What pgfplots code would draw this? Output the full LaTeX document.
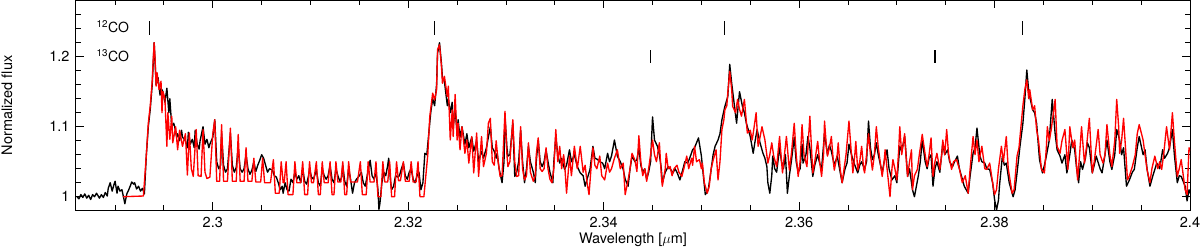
\documentclass[border=0pt]{standalone}
\usepackage{fontspec}
\setmainfont{TeX Gyre Heros}
\usepackage{pgfplots}
\pgfplotsset{compat=1.18}
\usepackage{pgfplotstable}
\pgfplotstableread[row sep=\\]{
x y\\
2.2861 1.000\\ 2.2863 0.997\\ 2.2865 1.003\\ 2.2867 0.999\\ 2.2869 1.004\\ 2.2871 0.998\\ 2.2873 1.002\\ 2.2875 0.996\\
2.2877 1.003\\ 2.2879 1.000\\ 2.2881 1.005\\ 2.2884 0.998\\ 2.2886 1.003\\ 2.2888 0.999\\ 2.2890 1.006\\ 2.2892 1.001\\
2.2893 1.012\\ 2.2895 1.020\\ 2.2897 1.008\\ 2.2899 1.018\\ 2.2900 1.022\\ 2.2902 1.005\\ 2.2903 1.015\\ 2.2905 1.008\\
2.2907 1.010\\ 2.2909 0.997\\ 2.2910 0.990\\ 2.2912 1.004\\ 2.2914 1.010\\ 2.2916 1.017\\ 2.2917 1.021\\ 2.2919 1.018\\
2.2920 1.020\\ 2.2922 1.011\\ 2.2924 1.015\\ 2.2926 1.008\\ 2.2928 1.012\\ 2.2930 1.004\\ 2.2932 1.060\\ 2.2934 1.100\\
2.2936 1.125\\ 2.2938 1.160\\ 2.2939 1.190\\ 2.2940 1.220\\ 2.2941 1.190\\ 2.2942 1.160\\ 2.2944 1.170\\ 2.2946 1.145\\
2.2947 1.155\\ 2.2949 1.150\\ 2.2951 1.135\\ 2.2953 1.155\\ 2.2955 1.120\\ 2.2956 1.140\\ 2.2958 1.100\\ 2.2960 1.105\\
2.2961 1.100\\ 2.2963 1.085\\ 2.2964 1.090\\ 2.2966 1.080\\ 2.2968 1.095\\ 2.2969 1.085\\ 2.2972 1.080\\ 2.2974 1.070\\
2.2975 1.092\\ 2.2977 1.075\\ 2.2979 1.082\\ 2.2981 1.070\\ 2.2982 1.095\\ 2.2984 1.075\\ 2.2986 1.068\\ 2.2987 1.080\\
2.2990 1.100\\ 2.2992 1.075\\ 2.2994 1.082\\ 2.2996 1.070\\ 2.2997 1.075\\ 2.3000 1.085\\ 2.3002 1.110\\ 2.3004 1.050\\
2.3006 1.040\\ 2.3008 1.045\\ 2.3009 1.090\\ 2.3011 1.045\\ 2.3013 1.035\\ 2.3015 1.040\\ 2.3018 1.090\\ 2.3020 1.045\\
2.3022 1.035\\ 2.3024 1.042\\ 2.3026 1.070\\ 2.3028 1.040\\ 2.3030 1.035\\ 2.3032 1.040\\ 2.3034 1.060\\ 2.3036 1.040\\
2.3038 1.032\\ 2.3040 1.038\\ 2.3042 1.050\\ 2.3044 1.036\\ 2.3046 1.045\\ 2.3048 1.052\\ 2.3050 1.060\\ 2.3052 1.055\\
2.3054 1.045\\ 2.3056 1.035\\ 2.3058 1.040\\ 2.3061 1.038\\ 2.3063 1.030\\ 2.3065 1.028\\ 2.3067 1.020\\ 2.3069 1.010\\
2.3071 1.015\\ 2.3072 1.005\\ 2.3074 1.020\\ 2.3076 1.010\\ 2.3078 1.008\\ 2.3080 1.025\\ 2.3082 1.020\\ 2.3084 1.035\\
2.3086 1.025\\ 2.3088 1.030\\ 2.3090 1.020\\ 2.3092 1.040\\ 2.3094 1.022\\ 2.3096 1.018\\ 2.3098 1.030\\ 2.3099 1.040\\
2.3101 1.028\\ 2.3103 1.025\\ 2.3106 1.038\\ 2.3108 1.020\\ 2.3110 1.015\\ 2.3112 1.040\\ 2.3114 1.030\\ 2.3116 1.025\\
2.3118 1.030\\ 2.3120 1.045\\ 2.3122 1.025\\ 2.3124 1.020\\ 2.3126 1.040\\ 2.3128 1.030\\ 2.3130 1.022\\ 2.3132 1.028\\
2.3133 1.045\\ 2.3135 1.022\\ 2.3137 1.015\\ 2.3139 1.040\\ 2.3141 1.025\\ 2.3143 1.005\\ 2.3145 1.020\\ 2.3147 1.025\\
2.3150 1.030\\ 2.3152 1.035\\ 2.3154 1.020\\ 2.3156 1.015\\ 2.3158 1.030\\ 2.3160 1.045\\ 2.3161 1.052\\ 2.3163 1.030\\
2.3165 1.025\\ 2.3167 1.035\\ 2.3169 1.010\\ 2.3170 0.982\\ 2.3171 0.990\\ 2.3173 1.020\\ 2.3175 1.035\\ 2.3177 1.030\\
2.3179 1.045\\ 2.3180 1.055\\ 2.3182 1.020\\ 2.3183 1.010\\ 2.3185 1.015\\ 2.3187 1.030\\ 2.3189 1.028\\ 2.3191 1.030\\
2.3193 1.040\\ 2.3195 1.048\\ 2.3197 1.030\\ 2.3199 1.025\\ 2.3201 1.035\\ 2.3203 1.040\\ 2.3205 1.025\\ 2.3207 1.020\\
2.3209 1.030\\ 2.3211 1.035\\ 2.3213 1.010\\ 2.3215 1.020\\ 2.3217 1.062\\ 2.3219 1.060\\ 2.3221 1.090\\ 2.3223 1.120\\
2.3225 1.140\\ 2.3227 1.130\\ 2.3229 1.160\\ 2.3230 1.205\\ 2.3232 1.220\\ 2.3234 1.190\\ 2.3235 1.170\\ 2.3237 1.165\\
2.3240 1.130\\ 2.3241 1.140\\ 2.3243 1.120\\ 2.3245 1.135\\ 2.3246 1.100\\ 2.3248 1.125\\ 2.3250 1.090\\ 2.3251 1.110\\
2.3253 1.085\\ 2.3255 1.100\\ 2.3258 1.075\\ 2.3260 1.090\\ 2.3262 1.070\\ 2.3265 1.085\\ 2.3267 1.065\\ 2.3270 1.080\\
2.3272 1.050\\ 2.3275 1.065\\ 2.3277 1.055\\ 2.3280 1.070\\ 2.3282 1.085\\ 2.3284 1.100\\ 2.3286 1.070\\ 2.3288 1.065\\
2.3290 1.055\\ 2.3291 1.062\\ 2.3293 1.040\\ 2.3296 1.020\\ 2.3298 1.050\\ 2.3299 1.115\\ 2.3301 1.070\\ 2.3302 1.058\\
2.3304 1.060\\ 2.3306 1.090\\ 2.3307 1.105\\ 2.3309 1.029\\ 2.3311 1.035\\ 2.3313 1.050\\ 2.3315 1.095\\ 2.3317 1.050\\
2.3319 1.020\\ 2.3321 1.040\\ 2.3323 1.072\\ 2.3325 1.050\\ 2.3328 1.035\\ 2.3330 1.020\\ 2.3331 1.050\\ 2.3333 1.081\\
2.3335 1.050\\ 2.3337 1.043\\ 2.3339 1.050\\ 2.3341 1.067\\ 2.3343 1.050\\ 2.3345 1.035\\ 2.3348 1.020\\ 2.3349 1.050\\
2.3351 1.086\\ 2.3353 1.060\\ 2.3355 1.048\\ 2.3357 1.055\\ 2.3360 1.039\\ 2.3362 1.045\\ 2.3365 1.067\\ 2.3367 1.050\\
2.3370 1.060\\ 2.3373 1.043\\ 2.3376 1.034\\ 2.3379 1.030\\ 2.3381 1.015\\ 2.3383 1.025\\ 2.3386 1.039\\ 2.3389 1.072\\
2.3391 1.055\\ 2.3394 1.053\\ 2.3396 1.050\\ 2.3399 1.048\\ 2.3401 1.040\\ 2.3404 1.062\\ 2.3406 1.050\\ 2.3408 1.058\\
2.3411 1.081\\ 2.3414 1.058\\ 2.3417 1.050\\ 2.3420 1.039\\ 2.3422 1.025\\ 2.3425 1.015\\ 2.3427 1.040\\ 2.3429 1.058\\
2.3432 1.050\\ 2.3434 1.053\\ 2.3436 1.070\\ 2.3438 1.045\\ 2.3440 1.035\\ 2.3442 1.040\\ 2.3444 1.025\\ 2.3446 1.035\\
2.3448 1.050\\ 2.3450 1.114\\ 2.3452 1.081\\ 2.3454 1.075\\ 2.3455 1.072\\ 2.3457 1.060\\ 2.3459 1.040\\ 2.3460 1.020\\
2.3463 1.035\\ 2.3466 1.043\\ 2.3468 1.040\\ 2.3471 1.034\\ 2.3473 1.040\\ 2.3475 1.035\\ 2.3478 1.024\\ 2.3481 1.039\\
2.3483 1.050\\ 2.3486 1.048\\ 2.3488 1.055\\ 2.3491 1.067\\ 2.3493 1.070\\ 2.3495 1.077\\ 2.3497 1.084\\ 2.3500 1.058\\
2.3502 1.030\\ 2.3504 1.003\\ 2.3507 1.010\\ 2.3509 1.029\\ 2.3512 1.060\\ 2.3514 1.072\\ 2.3517 1.081\\ 2.3519 1.090\\
2.3521 1.110\\ 2.3524 1.129\\ 2.3527 1.143\\ 2.3529 1.189\\ 2.3531 1.162\\ 2.3533 1.139\\ 2.3536 1.105\\ 2.3539 1.150\\
2.3542 1.129\\ 2.3544 1.120\\ 2.3546 1.105\\ 2.3550 1.086\\ 2.3553 1.062\\ 2.3555 1.080\\ 2.3557 1.096\\ 2.3560 1.077\\
2.3563 1.062\\ 2.3565 1.055\\ 2.3567 1.043\\ 2.3568 1.020\\ 2.3570 1.005\\ 2.3572 1.030\\ 2.3573 1.058\\ 2.3575 1.040\\
2.3577 1.035\\ 2.3580 1.070\\ 2.3582 1.050\\ 2.3584 1.040\\ 2.3586 1.060\\ 2.3588 1.005\\ 2.3590 1.030\\ 2.3592 1.050\\
2.3595 1.085\\ 2.3597 1.050\\ 2.3599 1.035\\ 2.3601 1.040\\ 2.3603 1.075\\ 2.3604 1.048\\ 2.3607 1.060\\ 2.3609 1.086\\
2.3611 1.070\\ 2.3614 1.029\\ 2.3616 1.045\\ 2.3619 1.060\\ 2.3621 1.048\\ 2.3623 1.040\\ 2.3626 1.091\\ 2.3629 1.060\\
2.3631 1.074\\ 2.3633 1.065\\ 2.3636 1.045\\ 2.3639 1.058\\ 2.3642 1.035\\ 2.3644 1.020\\ 2.3647 1.040\\ 2.3649 1.048\\
2.3651 1.075\\ 2.3654 1.058\\ 2.3657 1.045\\ 2.3660 1.034\\ 2.3662 1.045\\ 2.3664 1.050\\ 2.3667 1.039\\ 2.3669 1.050\\
2.3671 1.108\\ 2.3673 1.070\\ 2.3675 1.053\\ 2.3677 1.060\\ 2.3679 1.077\\ 2.3681 1.060\\ 2.3685 1.034\\ 2.3687 1.050\\
2.3690 1.067\\ 2.3692 1.040\\ 2.3695 1.024\\ 2.3698 1.030\\ 2.3700 1.020\\ 2.3703 1.072\\ 2.3705 1.065\\ 2.3708 1.086\\
2.3710 1.050\\ 2.3711 1.029\\ 2.3713 1.040\\ 2.3716 1.010\\ 2.3718 1.000\\ 2.3720 1.015\\ 2.3722 1.030\\ 2.3724 1.050\\
2.3726 1.081\\ 2.3729 1.050\\ 2.3731 1.040\\ 2.3733 1.055\\ 2.3735 1.060\\ 2.3737 1.015\\ 2.3739 1.040\\ 2.3741 1.050\\
2.3744 1.035\\ 2.3747 1.077\\ 2.3749 1.060\\ 2.3752 1.067\\ 2.3754 1.050\\ 2.3757 1.043\\ 2.3759 1.050\\ 2.3762 1.058\\
2.3764 1.040\\ 2.3766 1.030\\ 2.3769 1.015\\ 2.3773 1.005\\ 2.3775 1.030\\ 2.3778 1.062\\ 2.3780 1.070\\ 2.3782 1.098\\
2.3785 1.058\\ 2.3787 1.050\\ 2.3790 1.048\\ 2.3792 1.040\\ 2.3795 1.039\\ 2.3798 1.020\\ 2.3800 0.996\\ 2.3802 0.981\\
2.3804 0.995\\ 2.3805 1.015\\ 2.3808 1.058\\ 2.3810 1.045\\ 2.3812 1.048\\ 2.3815 1.020\\ 2.3819 1.000\\ 2.3821 1.010\\
2.3823 1.034\\ 2.3826 1.072\\ 2.3829 1.105\\ 2.3831 1.140\\ 2.3833 1.181\\ 2.3835 1.150\\ 2.3836 1.143\\ 2.3839 1.124\\
2.3841 1.120\\ 2.3843 1.105\\ 2.3846 1.053\\ 2.3849 1.034\\ 2.3851 1.045\\ 2.3853 1.058\\ 2.3856 1.081\\ 2.3859 1.139\\
2.3862 1.090\\ 2.3864 1.067\\ 2.3867 1.058\\ 2.3869 1.048\\ 2.3872 1.060\\ 2.3874 1.034\\ 2.3877 1.060\\ 2.3879 1.081\\
2.3882 1.067\\ 2.3884 1.040\\ 2.3886 1.020\\ 2.3888 1.050\\ 2.3890 1.039\\ 2.3893 1.055\\ 2.3895 1.077\\ 2.3897 1.070\\
2.3900 1.034\\ 2.3902 1.045\\ 2.3904 1.058\\ 2.3908 1.040\\ 2.3910 1.034\\ 2.3913 1.060\\ 2.3915 1.081\\ 2.3918 1.050\\
2.3920 1.039\\ 2.3923 1.060\\ 2.3925 1.096\\ 2.3928 1.081\\ 2.3930 1.060\\ 2.3932 1.070\\ 2.3935 1.015\\ 2.3938 1.024\\
2.3941 1.035\\ 2.3943 1.039\\ 2.3946 1.070\\ 2.3948 1.086\\ 2.3952 1.060\\ 2.3954 1.067\\ 2.3956 1.040\\ 2.3959 1.015\\
2.3962 1.030\\ 2.3966 1.048\\ 2.3969 1.040\\ 2.3972 1.067\\ 2.3974 1.055\\ 2.3977 1.062\\ 2.3979 1.070\\ 2.3982 1.096\\
2.3984 1.060\\ 2.3987 1.020\\ 2.3989 1.030\\ 2.3991 1.029\\ 2.3995 1.015\\ 2.3997 0.994\\ 2.3999 1.010\\ 2.4000 1.005\\
}\blacktab
\pgfplotstableread[row sep=\\]{
x y\\
2.2908 1.000\\ 2.2929 1.001\\ 2.2932 1.060\\ 2.2934 1.105\\ 2.2936 1.130\\ 2.2938 1.165\\ 2.2939 1.195\\ 2.2940 1.220\\
2.2941 1.195\\ 2.2942 1.158\\ 2.2943 1.177\\ 2.2945 1.153\\ 2.2947 1.165\\ 2.2948 1.120\\ 2.2949 1.150\\ 2.2951 1.140\\
2.2953 1.072\\ 2.2954 1.120\\ 2.2956 1.082\\ 2.2958 1.115\\ 2.2959 1.077\\ 2.2962 1.100\\ 2.2964 1.067\\ 2.2966 1.095\\
2.2969 1.072\\ 2.2972 1.090\\ 2.2974 1.031\\ 2.2976 1.091\\ 2.2978 1.040\\ 2.2980 1.029\\ 2.2983 1.096\\ 2.2985 1.030\\
2.2988 1.029\\ 2.2990 1.096\\ 2.2992 1.035\\ 2.2994 1.026\\ 2.2997 1.028\\ 2.3000 1.090\\ 2.3002 1.110\\ 2.3004 1.022\\
2.3007 1.022\\ 2.3009 1.103\\ 2.3011 1.022\\ 2.3015 1.022\\ 2.3018 1.098\\ 2.3020 1.022\\ 2.3024 1.022\\ 2.3026 1.089\\
2.3028 1.022\\ 2.3032 1.022\\ 2.3034 1.070\\ 2.3036 1.022\\ 2.3040 1.022\\ 2.3042 1.055\\ 2.3044 1.021\\ 2.3049 1.021\\
2.3051 1.055\\ 2.3053 1.020\\ 2.3059 1.020\\ 2.3062 1.053\\ 2.3064 1.005\\ 2.3068 1.005\\ 2.3070 1.050\\ 2.3072 1.020\\
2.3073 1.020\\ 2.3075 1.050\\ 2.3077 1.003\\ 2.3082 1.003\\ 2.3084 1.050\\ 2.3086 1.020\\ 2.3090 1.020\\ 2.3092 1.050\\
2.3094 1.003\\ 2.3097 1.003\\ 2.3099 1.050\\ 2.3101 1.020\\ 2.3103 1.020\\ 2.3106 1.050\\ 2.3108 1.003\\ 2.3110 1.003\\
2.3112 1.050\\ 2.3114 1.020\\ 2.3118 1.020\\ 2.3120 1.050\\ 2.3122 1.003\\ 2.3124 1.003\\ 2.3126 1.050\\ 2.3128 1.021\\
2.3131 1.021\\ 2.3133 1.050\\ 2.3135 1.003\\ 2.3137 1.003\\ 2.3139 1.050\\ 2.3141 1.021\\ 2.3148 1.021\\ 2.3151 1.050\\
2.3153 1.003\\ 2.3157 1.003\\ 2.3159 1.050\\ 2.3161 1.021\\ 2.3165 1.021\\ 2.3167 1.050\\ 2.3169 1.000\\ 2.3172 1.000\\
2.3174 1.050\\ 2.3176 1.021\\ 2.3179 1.021\\ 2.3181 1.050\\ 2.3183 1.000\\ 2.3186 1.000\\ 2.3188 1.050\\ 2.3190 1.023\\
2.3192 1.023\\ 2.3195 1.050\\ 2.3197 1.022\\ 2.3201 1.022\\ 2.3203 1.050\\ 2.3205 1.021\\ 2.3208 1.021\\ 2.3210 1.050\\
2.3212 1.000\\ 2.3216 1.000\\ 2.3218 1.030\\ 2.3220 1.060\\ 2.3222 1.114\\ 2.3225 1.148\\ 2.3227 1.138\\ 2.3229 1.153\\
2.3230 1.210\\ 2.3232 1.217\\ 2.3234 1.186\\ 2.3235 1.162\\ 2.3237 1.172\\ 2.3240 1.143\\ 2.3241 1.158\\ 2.3243 1.081\\
2.3245 1.124\\ 2.3246 1.086\\ 2.3248 1.146\\ 2.3250 1.081\\ 2.3251 1.105\\ 2.3253 1.067\\ 2.3255 1.100\\ 2.3258 1.062\\
2.3260 1.081\\ 2.3262 1.048\\ 2.3265 1.086\\ 2.3267 1.034\\ 2.3270 1.091\\ 2.3272 1.029\\ 2.3275 1.086\\ 2.3277 1.043\\
2.3280 1.062\\ 2.3282 1.105\\ 2.3284 1.112\\ 2.3286 1.050\\ 2.3288 1.045\\ 2.3290 1.080\\ 2.3292 1.050\\ 2.3294 1.029\\
2.3296 1.030\\ 2.3297 1.060\\ 2.3299 1.122\\ 2.3301 1.060\\ 2.3302 1.043\\ 2.3304 1.050\\ 2.3306 1.090\\ 2.3307 1.110\\
2.3309 1.050\\ 2.3311 1.029\\ 2.3313 1.030\\ 2.3315 1.100\\ 2.3317 1.040\\ 2.3319 1.024\\ 2.3321 1.030\\ 2.3323 1.077\\
2.3325 1.035\\ 2.3328 1.022\\ 2.3330 1.030\\ 2.3331 1.060\\ 2.3333 1.084\\ 2.3335 1.040\\ 2.3337 1.036\\ 2.3339 1.040\\
2.3341 1.070\\ 2.3343 1.040\\ 2.3345 1.025\\ 2.3347 1.020\\ 2.3349 1.040\\ 2.3351 1.096\\ 2.3353 1.050\\ 2.3355 1.072\\
2.3357 1.040\\ 2.3359 1.060\\ 2.3360 1.048\\ 2.3362 1.005\\ 2.3364 1.040\\ 2.3365 1.058\\ 2.3367 1.030\\ 2.3370 1.072\\
2.3373 1.040\\ 2.3376 1.072\\ 2.3379 1.035\\ 2.3381 1.045\\ 2.3383 1.020\\ 2.3385 1.003\\ 2.3387 1.040\\ 2.3389 1.070\\
2.3391 1.045\\ 2.3393 1.040\\ 2.3396 1.058\\ 2.3398 1.030\\ 2.3401 1.024\\ 2.3404 1.048\\ 2.3406 1.035\\ 2.3408 1.040\\
2.3411 1.055\\ 2.3414 1.067\\ 2.3417 1.040\\ 2.3420 1.048\\ 2.3422 1.003\\ 2.3425 1.024\\ 2.3427 1.040\\ 2.3429 1.062\\
2.3432 1.052\\ 2.3434 1.036\\ 2.3436 1.087\\ 2.3438 1.050\\ 2.3440 1.030\\ 2.3442 1.040\\ 2.3444 1.022\\ 2.3446 1.040\\
2.3448 1.060\\ 2.3450 1.081\\ 2.3452 1.060\\ 2.3454 1.050\\ 2.3457 1.077\\ 2.3459 1.030\\ 2.3460 1.015\\ 2.3463 1.040\\
2.3464 1.062\\ 2.3466 1.040\\ 2.3468 1.043\\ 2.3470 1.030\\ 2.3472 1.040\\ 2.3475 1.045\\ 2.3477 1.035\\ 2.3480 1.029\\
2.3482 1.040\\ 2.3485 1.058\\ 2.3487 1.040\\ 2.3490 1.055\\ 2.3491 1.045\\ 2.3493 1.072\\ 2.3495 1.050\\ 2.3498 1.053\\
2.3500 1.040\\ 2.3501 1.048\\ 2.3503 1.020\\ 2.3506 1.005\\ 2.3508 1.015\\ 2.3510 1.040\\ 2.3512 1.052\\ 2.3515 1.067\\
2.3517 1.024\\ 2.3519 1.050\\ 2.3521 1.096\\ 2.3523 1.110\\ 2.3524 1.124\\ 2.3526 1.130\\ 2.3527 1.148\\ 2.3529 1.179\\
2.3531 1.153\\ 2.3532 1.129\\ 2.3535 1.120\\ 2.3537 1.139\\ 2.3539 1.125\\ 2.3541 1.115\\ 2.3544 1.139\\ 2.3547 1.091\\
2.3550 1.095\\ 2.3552 1.081\\ 2.3554 1.100\\ 2.3556 1.120\\ 2.3558 1.072\\ 2.3560 1.085\\ 2.3562 1.100\\ 2.3565 1.081\\
2.3568 1.048\\ 2.3570 1.060\\ 2.3572 1.077\\ 2.3574 1.058\\ 2.3577 1.043\\ 2.3580 1.086\\ 2.3582 1.050\\ 2.3583 1.034\\
2.3585 1.060\\ 2.3587 1.086\\ 2.3590 1.038\\ 2.3592 1.060\\ 2.3595 1.105\\ 2.3597 1.060\\ 2.3599 1.029\\ 2.3601 1.050\\
2.3603 1.103\\ 2.3605 1.060\\ 2.3608 1.043\\ 2.3609 1.070\\ 2.3611 1.115\\ 2.3613 1.060\\ 2.3614 1.034\\ 2.3616 1.050\\
2.3619 1.079\\ 2.3621 1.050\\ 2.3623 1.029\\ 2.3625 1.060\\ 2.3626 1.108\\ 2.3628 1.070\\ 2.3629 1.058\\ 2.3631 1.070\\
2.3633 1.086\\ 2.3635 1.050\\ 2.3636 1.038\\ 2.3639 1.060\\ 2.3640 1.077\\ 2.3642 1.040\\ 2.3644 1.020\\ 2.3646 1.040\\
2.3648 1.060\\ 2.3651 1.108\\ 2.3653 1.070\\ 2.3655 1.034\\ 2.3657 1.060\\ 2.3658 1.079\\ 2.3660 1.038\\ 2.3662 1.050\\
2.3664 1.072\\ 2.3666 1.040\\ 2.3667 1.034\\ 2.3669 1.060\\ 2.3671 1.090\\ 2.3673 1.060\\ 2.3675 1.038\\ 2.3677 1.060\\
2.3679 1.100\\ 2.3681 1.070\\ 2.3685 1.029\\ 2.3687 1.050\\ 2.3688 1.067\\ 2.3690 1.040\\ 2.3693 1.000\\ 2.3695 1.040\\
2.3696 1.053\\ 2.3698 1.040\\ 2.3700 1.024\\ 2.3702 1.070\\ 2.3703 1.100\\ 2.3705 1.060\\ 2.3708 1.090\\ 2.3710 1.045\\
2.3711 1.029\\ 2.3713 1.050\\ 2.3715 1.067\\ 2.3716 1.010\\ 2.3718 1.030\\ 2.3721 1.039\\ 2.3723 1.060\\ 2.3726 1.089\\
2.3729 1.060\\ 2.3731 1.043\\ 2.3733 1.060\\ 2.3735 1.084\\ 2.3737 1.029\\ 2.3739 1.050\\ 2.3741 1.062\\ 2.3744 1.039\\
2.3746 1.060\\ 2.3747 1.081\\ 2.3749 1.060\\ 2.3751 1.096\\ 2.3753 1.060\\ 2.3756 1.039\\ 2.3758 1.050\\ 2.3761 1.053\\
2.3764 1.040\\ 2.3767 1.020\\ 2.3770 1.030\\ 2.3773 1.005\\ 2.3775 1.040\\ 2.3778 1.086\\ 2.3780 1.060\\ 2.3782 1.081\\
2.3784 1.050\\ 2.3787 1.072\\ 2.3790 1.040\\ 2.3792 1.039\\ 2.3795 1.048\\ 2.3798 1.020\\ 2.3800 1.003\\ 2.3802 1.010\\
2.3804 1.040\\ 2.3807 1.072\\ 2.3809 1.050\\ 2.3812 1.086\\ 2.3814 1.040\\ 2.3818 1.005\\ 2.3820 1.010\\ 2.3823 1.058\\
2.3825 1.070\\ 2.3827 1.100\\ 2.3829 1.130\\ 2.3831 1.153\\ 2.3833 1.167\\ 2.3835 1.140\\ 2.3836 1.153\\ 2.3839 1.124\\
2.3841 1.130\\ 2.3843 1.096\\ 2.3845 1.080\\ 2.3848 1.039\\ 2.3851 1.034\\ 2.3853 1.070\\ 2.3854 1.100\\ 2.3856 1.080\\
2.3858 1.096\\ 2.3862 1.139\\ 2.3864 1.072\\ 2.3867 1.062\\ 2.3869 1.080\\ 2.3872 1.096\\ 2.3875 1.039\\ 2.3877 1.100\\
2.3880 1.070\\ 2.3882 1.081\\ 2.3885 1.024\\ 2.3887 1.060\\ 2.3889 1.100\\ 2.3892 1.048\\ 2.3894 1.070\\ 2.3897 1.112\\
2.3900 1.034\\ 2.3902 1.050\\ 2.3906 1.096\\ 2.3908 1.060\\ 2.3911 1.048\\ 2.3913 1.060\\ 2.3915 1.103\\ 2.3918 1.060\\
2.3920 1.043\\ 2.3923 1.080\\ 2.3925 1.139\\ 2.3927 1.100\\ 2.3928 1.062\\ 2.3930 1.080\\ 2.3932 1.112\\ 2.3934 1.070\\
2.3936 1.024\\ 2.3938 1.030\\ 2.3941 1.043\\ 2.3944 1.060\\ 2.3946 1.090\\ 2.3948 1.103\\ 2.3952 1.081\\ 2.3954 1.060\\
2.3956 1.039\\ 2.3959 1.020\\ 2.3961 1.040\\ 2.3964 1.058\\ 2.3967 1.040\\ 2.3969 1.050\\ 2.3971 1.039\\ 2.3973 1.060\\
2.3976 1.100\\ 2.3979 1.067\\ 2.3982 1.120\\ 2.3984 1.080\\ 2.3987 1.029\\ 2.3989 1.040\\ 2.3991 1.053\\ 2.3995 1.010\\
2.3997 1.003\\ 2.3999 1.070\\ 2.4000 1.065\\
}\redtab
\begin{document}
\begin{tikzpicture}
\begin{axis}[
  scale only axis,
  width=1114pt, height=209.8pt,
  xmin=2.286, xmax=2.4,
  ymin=0.9806, ymax=1.2803,
  xtick={2.3,2.32,2.34,2.36,2.38,2.4},
  xticklabels={2.3,2.32,2.34,2.36,2.38,2.4},
  minor xtick={2.29,2.295,2.305,2.31,2.315,2.325,2.33,2.335,2.345,2.35,2.355,2.365,2.37,2.375,2.385,2.39,2.395},
  ytick={1,1.1,1.2},
  yticklabels={1,1.1,1.2},
  minor ytick={1.02,1.04,1.06,1.08,1.12,1.14,1.16,1.18,1.22,1.24,1.26},
  tick align=inside,
  major tick length=8pt, minor tick length=5pt,
  tick style={black, line width=0.9pt},
  axis line style={black, line width=1pt},
  tick label style={font=\fontsize{14.5}{17}\selectfont, black},
  xticklabel style={yshift=-3pt},
  yticklabel style={xshift=-3pt},
  label style={font=\fontsize{14.5}{17}\selectfont},
  xlabel={Wavelength [$\mu$m]},
  ylabel={Normalized flux},
  xlabel style={at={(axis description cs:0.5,0)}, anchor=base, yshift=-33pt},
  ylabel style={at={(axis description cs:-0.062,0.5)}, anchor=center},
]
\addplot[black, line width=1.35pt, line join=round] table[x=x, y=y] {\blacktab};
\addplot[red, line width=1.35pt, line join=round] table[x=x, y=y] {\redtab};
% 12CO bandhead markers
\addplot[black, line width=1.1pt] coordinates {(2.2935,1.2314) (2.2935,1.2504)};
\addplot[black, line width=1.1pt] coordinates {(2.3227,1.2314) (2.3227,1.2504)};
\addplot[black, line width=1.1pt] coordinates {(2.3524,1.2314) (2.3524,1.2504)};
\addplot[black, line width=1.1pt] coordinates {(2.3829,1.2314) (2.3829,1.2504)};
% 13CO bandhead markers
\addplot[black, line width=1.1pt] coordinates {(2.3448,1.1914) (2.3448,1.2100)};
\addplot[black, line width=1.1pt] coordinates {(2.3739,1.1914) (2.3739,1.2100)};
\node[anchor=base west, inner sep=0pt, font=\fontsize{14}{16}\selectfont] at (axis cs:2.2881,1.2343) {\textsuperscript{12}CO};
\node[anchor=base west, inner sep=0pt, font=\fontsize{14}{16}\selectfont] at (axis cs:2.2881,1.1929) {\textsuperscript{13}CO};
\end{axis}
\pgfresetboundingbox
\path ([xshift=-76pt,yshift=-37.7pt]current axis.south west) rectangle ([xshift=10pt,yshift=0.5pt]current axis.north east);
\end{tikzpicture}
\end{document}
